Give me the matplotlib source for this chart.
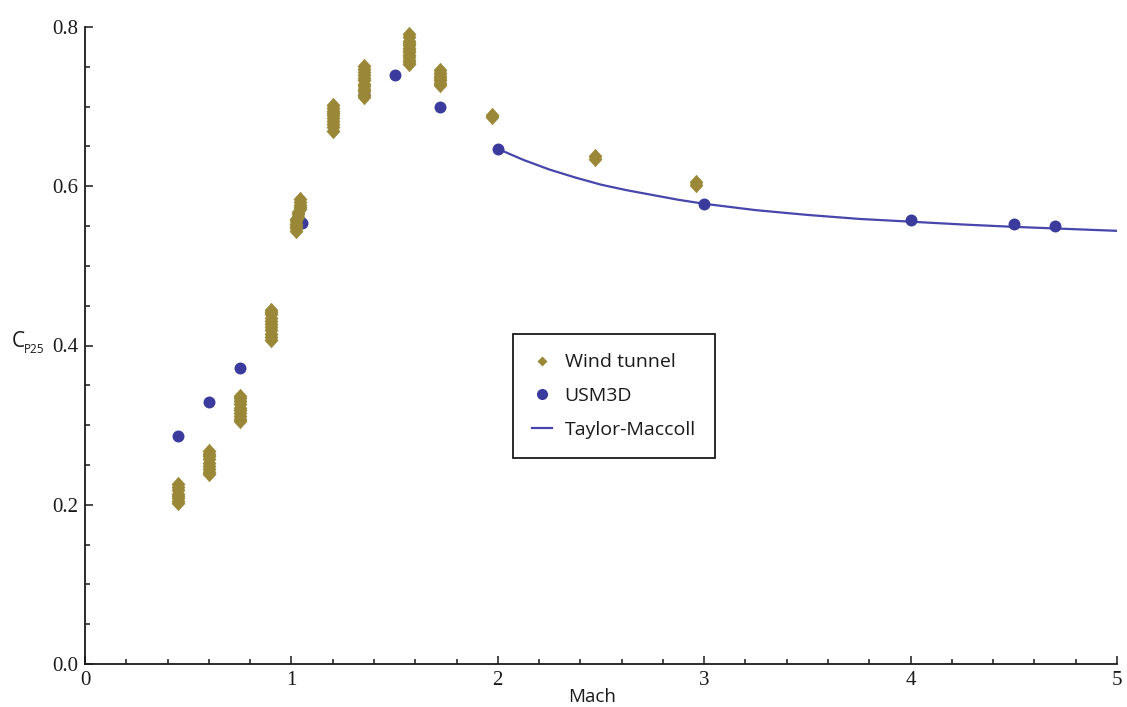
import matplotlib
matplotlib.use("Agg")
import matplotlib.pyplot as plt
from matplotlib.lines import Line2D
from matplotlib.ticker import MultipleLocator, FixedLocator

# Wind tunnel measurements: repeated runs stack up at each Mach number
wt_mach = (
    [0.45] * 8
    + [0.60] * 9
    + [0.75] * 10
    + [0.90] * 11
    + [1.02] * 6 + [1.03] * 3 + [1.04] * 5
    + [1.20] * 10
    + [1.35] * 12
    + [1.57] * 13
    + [1.72] * 7
    + [1.97] * 2
    + [2.47] * 2
    + [2.96] * 2
)
wt_cp = [
    0.202, 0.205, 0.208, 0.211, 0.214, 0.218, 0.222, 0.226,
    0.238, 0.241, 0.245, 0.249, 0.253, 0.257, 0.261, 0.264, 0.267,
    0.305, 0.308, 0.312, 0.315, 0.319, 0.322, 0.326, 0.330, 0.334, 0.337,
    0.407, 0.411, 0.415, 0.419, 0.423, 0.427, 0.431, 0.435, 0.439, 0.442, 0.445,
    0.544, 0.547, 0.550, 0.553, 0.556, 0.559,
    0.562, 0.565, 0.568,
    0.571, 0.574, 0.577, 0.580, 0.584,
    0.670, 0.674, 0.678, 0.682, 0.686, 0.689, 0.692, 0.695, 0.698, 0.702,
    0.712, 0.715, 0.719, 0.722, 0.726, 0.729, 0.733, 0.736, 0.740, 0.743, 0.747, 0.751,
    0.753, 0.756, 0.759, 0.762, 0.765, 0.768, 0.771, 0.774, 0.777, 0.780, 0.783, 0.787, 0.791,
    0.727, 0.730, 0.733, 0.736, 0.739, 0.742, 0.746,
    0.687, 0.690,
    0.634, 0.638,
    0.601, 0.605,
]

# USM3D CFD results
cfd_mach = [0.45, 0.60, 0.75, 1.05, 1.35, 1.50, 1.72, 2.00, 3.00, 4.00, 4.50, 4.70]
cfd_cp = [0.286, 0.329, 0.372, 0.554, 0.716, 0.740, 0.700, 0.647, 0.578, 0.557, 0.552, 0.550]

# Taylor-Maccoll cone-flow theory
tm_mach = [2.00, 2.125, 2.25, 2.375, 2.50, 2.625, 2.75, 2.875, 3.00,
           3.25, 3.50, 3.75, 4.00, 4.25, 4.50, 4.75, 5.00]
tm_cp = [0.647, 0.633, 0.621, 0.611, 0.602, 0.595, 0.589, 0.583, 0.578,
         0.570, 0.564, 0.559, 0.5555, 0.552, 0.549, 0.5465, 0.544]

x_ticks = [0, 1, 2, 3, 4, 5]
x_ticklabels = ["0", "1", "2", "3", "4", "5"]
y_ticks = [0.0, 0.2, 0.4, 0.6, 0.8]
y_ticklabels = ["0.0", "0.2", "0.4", "0.6", "0.8"]

OLIVE = "#9a8838"
BLUE = "#3b3b9e"
LINE_BLUE = "#4646ac"
INK = "#1a1a1a"

SANS = ["Open Sans", "DejaVu Sans"]
SERIF = ["Liberation Serif", "DejaVu Serif"]

# Diamond a little taller than wide
diamond = [(0, 1), (0.9, 0), (0, -1), (-0.9, 0), (0, 1)]

fig = plt.figure(figsize=(11.27, 7.07), dpi=100)
ax = fig.add_axes([85 / 1127, 43 / 707, 1032 / 1127, 637 / 707])

ax.plot(tm_mach, tm_cp, color=LINE_BLUE, lw=1.6, zorder=2)
ax.plot(cfd_mach, cfd_cp, ls="none", marker="o", ms=8.6, color=BLUE, mec="none", zorder=3)
ax.plot(wt_mach, wt_cp, ls="none", marker=diamond, ms=10.5, color=OLIVE,
        mec=OLIVE, mew=0.4, zorder=4)

ax.set_xlim(0, 5)
ax.set_ylim(0, 0.8)

ax.xaxis.set_major_locator(FixedLocator(x_ticks))
ax.set_xticklabels(x_ticklabels)
ax.yaxis.set_major_locator(FixedLocator(y_ticks))
ax.set_yticklabels(y_ticklabels)
ax.xaxis.set_minor_locator(MultipleLocator(0.2))
ax.yaxis.set_minor_locator(MultipleLocator(0.05))

for side in ("top", "right"):
    ax.spines[side].set_visible(False)
for side in ("left", "bottom"):
    ax.spines[side].set_linewidth(1.3)
    ax.spines[side].set_color(INK)

ax.tick_params(which="both", direction="in", color=INK, width=1.1)
ax.tick_params(which="major", length=6)
ax.tick_params(which="minor", length=3.5)
ax.tick_params(axis="x", pad=5)
ax.tick_params(axis="y", pad=5)
for lab in ax.get_xticklabels() + ax.get_yticklabels():
    lab.set_family(SERIF)
    lab.set_fontsize(15)
    lab.set_color(INK)

ax.set_xlabel("Mach", family=SANS, fontsize=13.5, color=INK)
ax.xaxis.set_label_coords((592 - 85) / 1032, -33 / 637)
ax.xaxis.label.set_va("center")

# y-axis label: C with a small P25 subscript
fig.text(12 / 1127, (707 - 347) / 707, "C", family=SANS, fontsize=15,
         color=INK, ha="left", va="baseline")
fig.text(24 / 1127, (707 - 353) / 707, "P25", family=SANS, fontsize=8.5,
         color=INK, ha="left", va="baseline")

handles = [
    Line2D([], [], ls="none", marker="D", ms=5.5, color=OLIVE, mec="none"),
    Line2D([], [], ls="none", marker="o", ms=8, color=BLUE, mec="none"),
    Line2D([], [], color=LINE_BLUE, lw=1.6),
]
labels = ["Wind tunnel", "USM3D", "Taylor-Maccoll"]
leg = ax.legend(handles, labels, loc="upper left",
                bbox_to_anchor=((513 - 85) / 1032, (664 - 334) / 637),
                borderaxespad=0, fancybox=False, framealpha=1,
                edgecolor=INK, prop={"family": SANS, "size": 14},
                handlelength=1.0, handletextpad=0.65, labelspacing=0.8,
                borderpad=1.0)
leg.get_frame().set_linewidth(1.3)
for t in leg.get_texts():
    t.set_color(INK)

fig.savefig("out.png", dpi=100)
